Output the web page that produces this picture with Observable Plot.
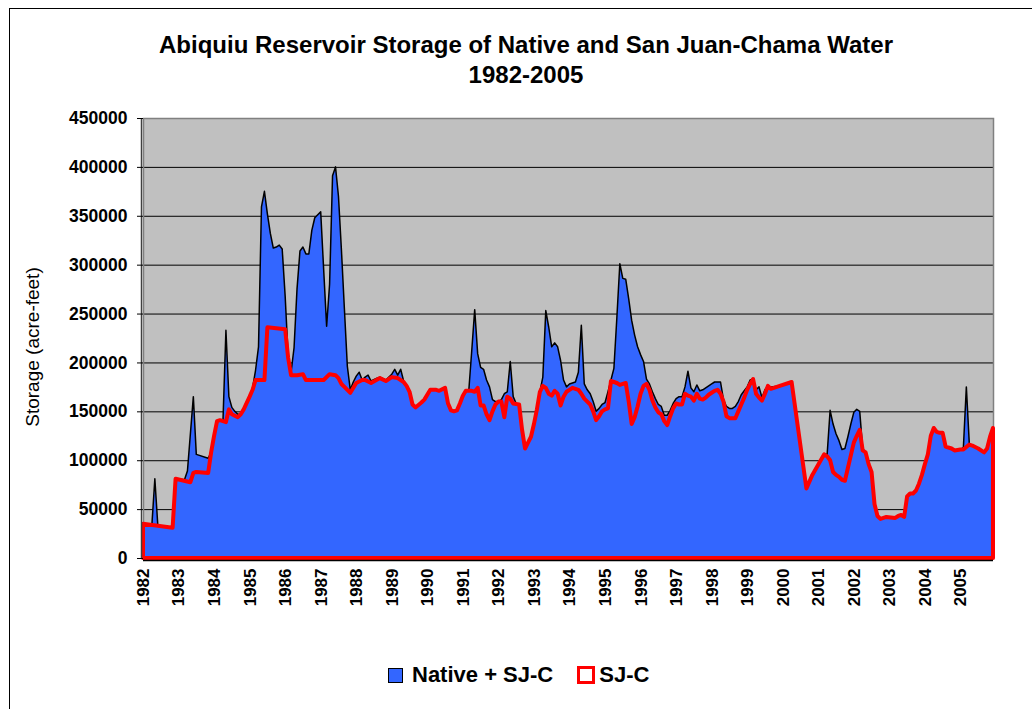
<!DOCTYPE html>
<html>
<head>
<meta charset="utf-8">
<script src="https://cdn.jsdelivr.net/npm/d3@7"></script>
<script src="https://cdn.jsdelivr.net/npm/@observablehq/plot@0.6"></script>
<style>
  body { margin: 0; background: #fff; color: #000; font-family: "Liberation Sans", Arial, sans-serif; }
  #chart { position: relative; width: 1032px; height: 709px; overflow: hidden; }
  #border { position: absolute; left: 9px; top: 8px; width: 1100px; height: 800px; border: 1px solid #000; }
  #title { position: absolute; left: 10px; width: 1032px; top: 30px; text-align: center; font-weight: bold; font-size: 24px; line-height: 30px; }
  #ylabel { position: absolute; left: 33px; top: 347px; transform: translate(-50%, -50%) rotate(-90deg); font-size: 19px; white-space: nowrap; }
  #plot { position: absolute; left: 0; top: 100px; }
  #legend { position: absolute; left: 388px; top: 662px; height: 26px; display: flex; align-items: center; font-weight: bold; font-size: 22px; white-space: nowrap; }
  .swatch { box-sizing: border-box; display: inline-block; }
</style>
</head>
<body>
<div id="chart">
  <div id="border"></div>
  <div id="title">Abiquiu Reservoir Storage of Native and San Juan-Chama Water<br>1982-2005</div>
  <div id="ylabel">Storage (acre-feet)</div>
  <div id="plot"></div>
  <div id="legend">
    <span class="swatch" style="width:15px;height:15px;background:#3366FF;border:1px solid #000;margin-right:9px;"></span>
    <span>Native + SJ-C</span>
    <span class="swatch" style="width:18px;height:18px;background:#fff;border:3px solid #FF0000;margin-left:24px;margin-right:4px;"></span>
    <span>SJ-C</span>
  </div>
</div>
<script>
// Monthly storage in acre-feet, January 1982 through December 2005.
// Each series lists the months where its line changes direction.

// Native + San Juan-Chama water (total storage)
const totalMonths = [
  "1982-01","1982-04","1982-05","1982-06","1982-11","1982-12","1983-03","1983-04","1983-06","1983-07",
  "1983-11","1983-12","1984-01","1984-02","1984-03","1984-04","1984-05","1984-06","1984-07","1984-08",
  "1984-09","1984-10","1984-11","1985-01","1985-02","1985-03","1985-04","1985-05","1985-06","1985-07",
  "1985-08","1985-09","1985-10","1985-11","1985-12","1986-01","1986-02","1986-03","1986-04","1986-05",
  "1986-06","1986-07","1986-08","1986-09","1986-10","1986-11","1986-12","1987-01","1987-02","1987-03",
  "1987-04","1987-05","1987-06","1987-07","1987-08","1987-09","1987-10","1987-11","1987-12","1988-01",
  "1988-02","1988-03","1988-04","1988-05","1988-06","1988-08","1988-09","1988-11","1989-01","1989-02",
  "1989-03","1989-04","1989-05","1989-06","1989-07","1989-08","1989-09","1989-11","1989-12","1990-02",
  "1990-04","1990-05","1990-07","1990-08","1990-09","1990-10","1990-11","1990-12","1991-01","1991-02",
  "1991-03","1991-04","1991-05","1991-06","1991-07","1991-08","1991-09","1991-10","1991-11","1991-12",
  "1992-01","1992-02","1992-03","1992-04","1992-05","1992-06","1992-07","1992-08","1992-09","1992-10",
  "1992-11","1992-12","1993-01","1993-02","1993-03","1993-04","1993-05","1993-06","1993-07","1993-08",
  "1993-09","1993-10","1993-11","1993-12","1994-01","1994-02","1994-03","1994-04","1994-05","1994-06",
  "1994-07","1994-08","1994-09","1994-10","1994-11","1994-12","1995-01","1995-02","1995-03","1995-04",
  "1995-05","1995-06","1995-07","1995-08","1995-09","1995-10","1995-11","1995-12","1996-01","1996-02",
  "1996-03","1996-04","1996-05","1996-06","1996-07","1996-08","1996-09","1996-10","1996-11","1996-12",
  "1997-01","1997-02","1997-03","1997-04","1997-05","1997-06","1997-07","1997-08","1997-09","1997-10",
  "1997-11","1997-12","1998-01","1998-02","1998-04","1998-05","1998-06","1998-07","1998-08","1998-09",
  "1998-10","1998-11","1998-12","1999-01","1999-02","1999-03","1999-04","1999-05","1999-06","1999-07",
  "1999-08","1999-09","1999-12","2000-04","2000-09","2000-11","2001-03","2001-04","2001-05","2001-06",
  "2001-07","2001-08","2001-09","2001-10","2001-11","2001-12","2002-01","2002-02","2002-03","2002-04",
  "2002-05","2002-06","2002-07","2002-08","2002-09","2002-10","2002-12","2003-03","2003-04","2003-05",
  "2003-06","2003-07","2003-08","2003-09","2003-10","2003-11","2003-12","2004-01","2004-02","2004-03",
  "2004-04","2004-05","2004-06","2004-07","2004-08","2004-10","2004-11","2005-01","2005-02","2005-03",
  "2005-04","2005-05","2005-07","2005-09","2005-10","2005-11","2005-12"
];
const totalStorage = [
  35000,34000,81000,33500,31000,81000,80000,89000,165000,106000,
  102000,108000,125000,140000,141000,140000,233000,165000,154000,150000,
  147000,147000,152000,165000,174000,192000,216000,359000,375000,352000,
  332000,317000,318000,320000,316000,268000,207000,190000,215000,275000,
  314000,318000,311000,311000,335000,348000,351000,354000,295000,237000,
  280000,391000,400000,370000,315000,255000,196000,172000,180000,186000,
  190000,182000,185000,187000,181000,184000,185000,182000,188000,193000,
  187000,193000,181000,176000,170000,157000,154000,159000,162000,172000,
  172000,171000,174000,158000,151000,150000,151000,158000,166000,171000,
  171000,212000,254000,209000,195000,193000,182000,175000,162000,160000,
  160000,162000,168000,170000,201000,165000,158000,157000,131000,112000,
  118000,124000,137000,152000,170000,185000,253000,236000,216000,220000,
  216000,202000,182000,175000,178000,179000,180000,190000,238000,178000,
  172000,168000,160000,150000,153000,157000,159000,170000,182000,194000,
  246000,301000,286000,285000,265000,243000,228000,216000,208000,201000,
  183000,178000,170000,163000,157000,155000,146000,146000,151000,158000,
  163000,165000,165000,175000,191000,174000,170000,177000,171000,172000,
  174000,176000,178000,180000,180000,162000,155000,153000,153000,155000,
  160000,167000,171000,175000,182000,183000,172000,175000,164000,172000,
  176000,175000,176000,180000,71000,85000,106000,106000,151000,137000,
  127000,120000,111000,112000,124000,137000,149000,152000,150000,112000,
  108000,96000,88000,55000,43000,40000,42000,41000,43000,44000,
  42000,63000,66000,66000,69000,76000,85000,96000,106000,125000,
  133000,129000,128000,128000,114000,112000,110000,111000,113000,175000,
  117000,115000,112000,108000,112000,124000,133000
];

// San Juan-Chama water (SJ-C)
const sjcMonths = [
  "1982-01","1982-11","1982-12","1983-05","1983-06","1983-07","1983-11","1983-12","1984-01","1984-02",
  "1984-03","1984-05","1984-06","1984-07","1984-09","1984-10","1984-11","1985-01","1985-02","1985-03",
  "1985-06","1985-07","1986-01","1986-02","1986-03","1986-05","1986-07","1986-08","1987-02","1987-04",
  "1987-06","1987-07","1987-08","1987-09","1987-10","1987-11","1988-01","1988-03","1988-04","1988-06",
  "1988-09","1988-11","1989-01","1989-03","1989-05","1989-06","1989-07","1989-08","1989-09","1989-11",
  "1989-12","1990-02","1990-04","1990-05","1990-07","1990-08","1990-09","1990-10","1990-11","1990-12",
  "1991-01","1991-02","1991-04","1991-05","1991-06","1991-07","1991-08","1991-09","1991-10","1991-11",
  "1991-12","1992-01","1992-02","1992-03","1992-04","1992-05","1992-06","1992-08","1992-09","1992-10",
  "1992-11","1992-12","1993-01","1993-02","1993-03","1993-04","1993-05","1993-06","1993-07","1993-08",
  "1993-09","1993-10","1993-11","1993-12","1994-01","1994-02","1994-03","1994-04","1994-05","1994-06",
  "1994-07","1994-08","1994-09","1994-10","1994-11","1994-12","1995-01","1995-02","1995-03","1995-04",
  "1995-05","1995-06","1995-07","1995-08","1995-09","1995-10","1995-11","1995-12","1996-01","1996-02",
  "1996-03","1996-04","1996-05","1996-06","1996-07","1996-08","1996-09","1996-10","1996-11","1996-12",
  "1997-01","1997-02","1997-03","1997-04","1997-05","1997-06","1997-07","1997-08","1997-09","1997-10",
  "1997-11","1997-12","1998-01","1998-02","1998-03","1998-04","1998-05","1998-06","1998-07","1998-09",
  "1998-10","1998-11","1998-12","1999-01","1999-02","1999-03","1999-04","1999-05","1999-06","1999-07",
  "1999-08","1999-09","1999-12","2000-04","2000-09","2000-11","2001-03","2001-04","2001-05","2001-06",
  "2001-07","2001-08","2001-09","2001-10","2001-11","2001-12","2002-01","2002-02","2002-03","2002-04",
  "2002-05","2002-06","2002-07","2002-08","2002-09","2002-10","2002-12","2003-03","2003-04","2003-05",
  "2003-06","2003-07","2003-08","2003-09","2003-10","2003-11","2003-12","2004-01","2004-02","2004-03",
  "2004-04","2004-05","2004-06","2004-07","2004-08","2004-10","2004-11","2005-01","2005-02","2005-04",
  "2005-05","2005-07","2005-09","2005-10","2005-11","2005-12"
];
const sjcStorage = [
  35000,31000,81000,77500,87000,88000,87000,108000,125000,140000,
  141000,139000,152000,147000,144000,147000,152000,165000,172000,182000,
  182000,236000,234000,205000,187000,187000,188000,182000,182000,188000,
  187000,184000,178000,175000,172000,169000,179000,182000,182000,179000,
  184000,181000,185000,184000,180000,176000,170000,157000,154000,159000,
  162000,172000,172000,171000,174000,158000,151000,150000,151000,158000,
  166000,171000,171000,170000,174000,156000,156000,147000,141000,150000,
  157000,160000,160000,144000,165000,163000,158000,157000,131000,112000,
  118000,124000,137000,152000,170000,176000,174000,168000,166000,171000,
  168000,156000,165000,170000,172000,174000,173000,172000,168000,163000,
  160000,157000,150000,141000,145000,150000,152000,153000,181000,180000,
  179000,177000,178000,179000,160000,137000,144000,155000,168000,176000,
  178000,172000,161000,154000,149000,147000,140000,136000,145000,153000,
  158000,157000,157000,168000,166000,165000,161000,168000,163000,162000,
  164000,167000,169000,171000,172000,168000,160000,145000,143000,143000,
  150000,157000,164000,172000,178000,183000,168000,164000,161000,168000,
  176000,173000,176000,180000,71000,85000,106000,104000,100000,88000,
  85000,83000,80000,79000,92000,105000,118000,125000,131000,110000,
  108000,96000,88000,55000,43000,40000,42000,41000,43000,44000,
  42000,63000,66000,66000,69000,76000,85000,96000,106000,125000,
  133000,129000,128000,128000,114000,112000,110000,111000,111000,116000,
  115000,112000,108000,112000,124000,133000
];

// Axis ticks
const yearLabels = ["1982","1983","1984","1985","1986","1987","1988","1989","1990","1991","1992","1993",
  "1994","1995","1996","1997","1998","1999","2000","2001","2002","2003","2004","2005"];
const storageTicks = [0, 50000, 100000, 150000, 200000, 250000, 300000, 350000, 400000, 450000];

// Months are equally spaced categories, counted from January 1982.
const monthIndex = s => {
  const [y, m] = s.split("-").map(Number);
  return (y - 1982) * 12 + (m - 1);
};
const total = totalMonths.map((s, i) => ({month: monthIndex(s), storage: totalStorage[i]}));
const sjc = sjcMonths.map((s, i) => ({month: monthIndex(s), storage: sjcStorage[i]}));
const yearTicks = yearLabels.map(y => monthIndex(y + "-01"));
const yearOf = new Map(yearTicks.map((t, i) => [t, yearLabels[i]]));

const chart = Plot.plot({
  width: 1032,
  height: 530,
  marginLeft: 143,
  marginRight: 39,
  marginTop: 18,
  marginBottom: 72,
  style: {fontFamily: "'Liberation Sans', Arial, sans-serif", background: "transparent", color: "#000", overflow: "visible"},
  x: {domain: [0, 287]},
  y: {domain: [0, 450000]},
  marks: [
    Plot.frame({fill: "#C0C0C0"}),
    Plot.gridY(storageTicks, {stroke: "#000", strokeOpacity: 1, strokeWidth: 1}),
    Plot.frame({stroke: "#808080", strokeWidth: 1.5}),
    Plot.areaY(total, {x: "month", y: "storage", fill: "#3366FF", stroke: "#000", strokeWidth: 1.5, strokeLinejoin: "round"}),
    Plot.areaY(sjc, {x: "month", y: "storage", fill: "none", stroke: "#FF0000", strokeWidth: 4, strokeLinejoin: "round"}),
    Plot.ruleX([0], {stroke: "#404040", strokeWidth: 1.5, dx: -2}),
    Plot.ruleY([0], {stroke: "#000", strokeWidth: 1.5, dy: 2}),
    Plot.axisY(storageTicks, {
      tickSize: 6, tickPadding: 10, tickFormat: d3.format("d"),
      fontSize: 17.5, fontWeight: "bold", label: null, stroke: "#000"
    }),
    Plot.axisX(yearTicks, {
      tickSize: 0, tickPadding: 10, tickRotate: -90, tickFormat: t => yearOf.get(t),
      fontSize: 17, fontWeight: "bold", label: null
    })
  ]
});
document.getElementById("plot").appendChild(chart);
</script>
</body>
</html>
